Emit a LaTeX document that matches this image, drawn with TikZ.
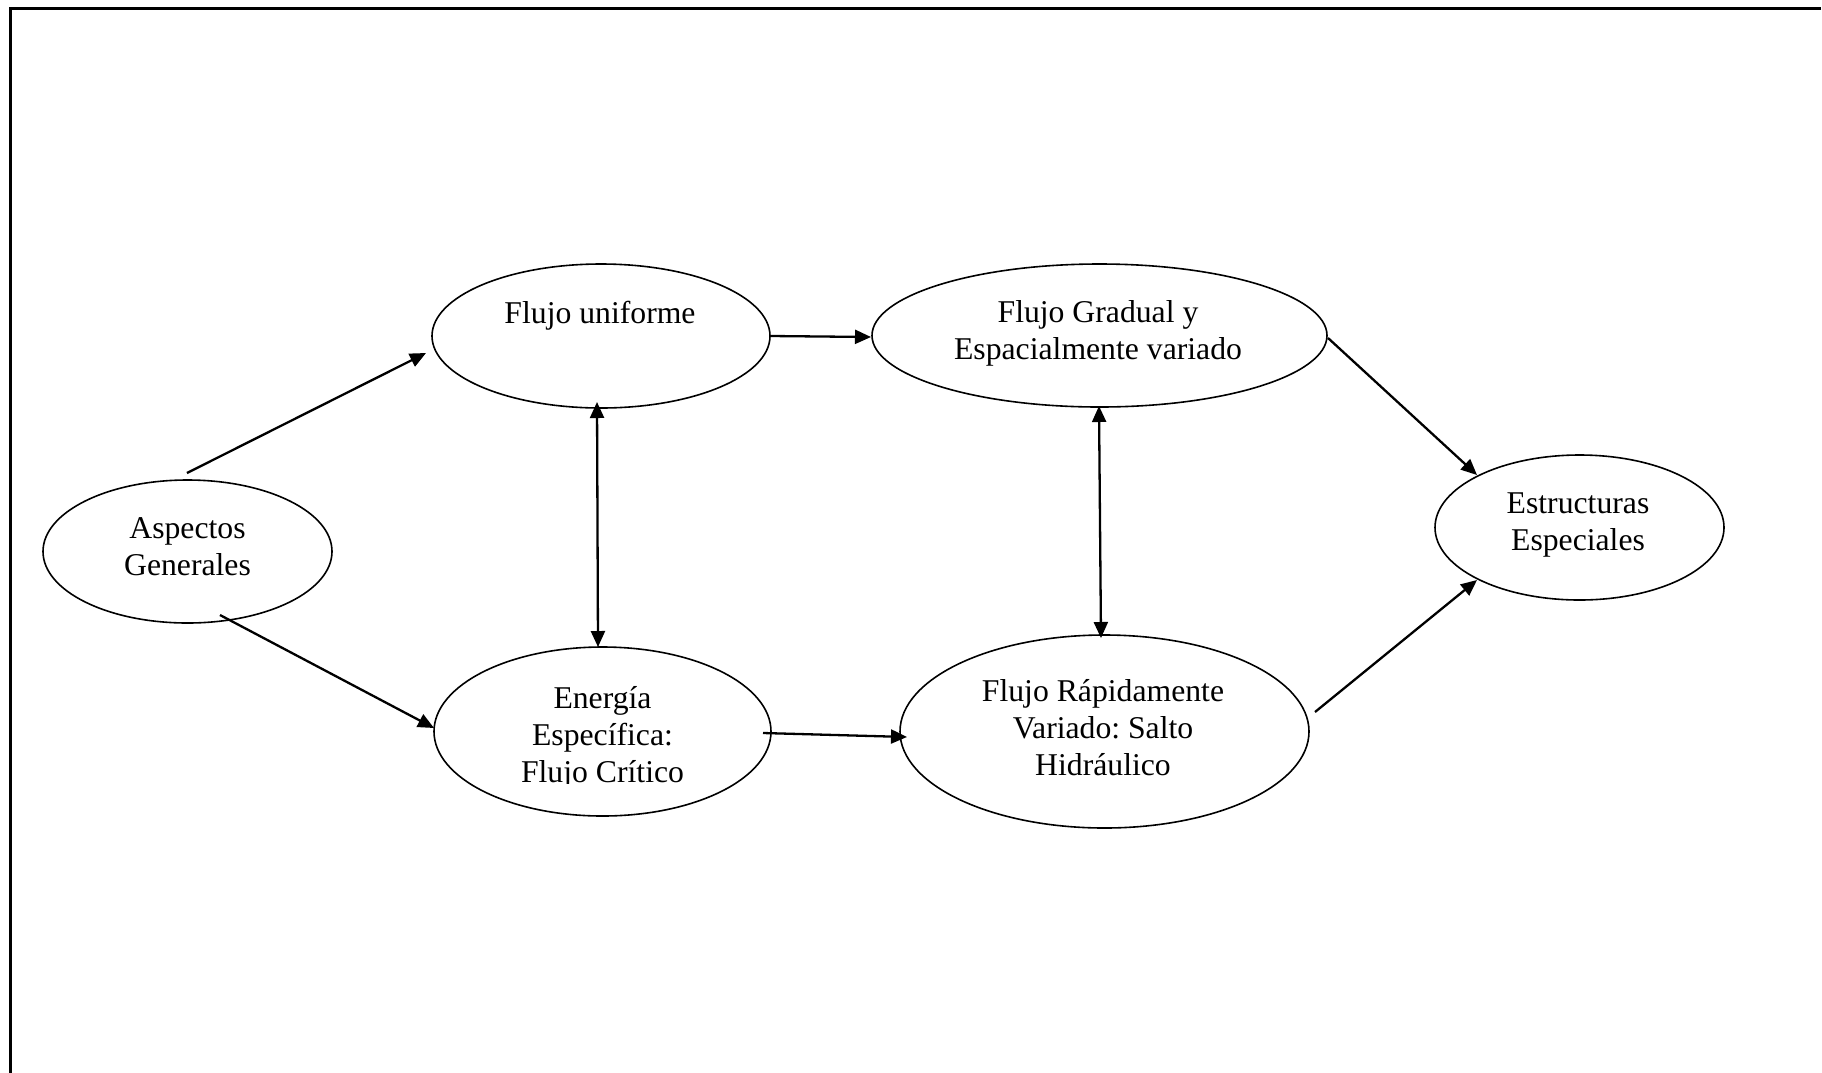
\documentclass[tikz,border=0pt]{standalone}
\usepackage{fontspec}
\setmainfont{Liberation Serif}
\frenchspacing
\usetikzlibrary{arrows.meta,calc,shapes.geometric}
\tikzset{
  oval/.style={draw=black, ellipse, line width=1.6pt, inner sep=0pt, fill=white},
  label/.style={anchor=base, inner sep=0pt, font=\fontsize{31.7}{37}\selectfont},
  conn/.style={line width=2.3pt, -{Triangle[length=16pt,width=14pt]}},
  bconn/.style={line width=2.3pt, {Triangle[length=16pt,width=14pt]}-{Triangle[length=16pt,width=14pt]}},
  framestyle/.style={line width=3pt}
}
\newcommand{\lines}[1]{\begin{tabular}[t]{@{}c@{}}#1\end{tabular}}
\begin{document}
\begin{tikzpicture}[x=1pt,y=-1pt]
\useasboundingbox (0,0) rectangle (1822,1072);
\fill[white] (0,0) rectangle (1822,1072);
% frame (top and left edges visible)
\coordinate (ftr) at (1821,8.7);
\coordinate (ftl) at (8.5,8.7);
\coordinate (fbl) at (10.3,1073);
\draw[framestyle] (ftr) -- (ftl -| fbl) -- (fbl);

% ellipses
\node[oval, minimum width=289pt, minimum height=143pt] (ag) at (187.5,551.5) {};
\node[oval, minimum width=338pt, minimum height=144pt] (fu) at (601,336) {};
\node[oval, minimum width=455pt, minimum height=143pt] (fg) at (1099.5,335.5) {};
\node[oval, minimum width=289pt, minimum height=145pt] (es) at (1579.5,527.5) {};
\node[oval, minimum width=337pt, minimum height=169pt] (en) at (602.5,731.5) {};
\node[oval, minimum width=409pt, minimum height=193pt] (fr) at (1104.5,731.5) {};

% texts
\node[label] (tag) at ($(ag)+(0,-13.5)$) {\lines{Aspectos\\Generales}};
\node[label] (tfu) at ($(fu)+(-1,-13)$) {Flujo uniforme};
\node[label] (tfg) at ($(fg)+(-1.5,-13.5)$) {\lines{Flujo Gradual y\\Espacialmente variado}};
\node[label] (tes) at ($(es)+(-1.5,-14.5)$) {\lines{Estructuras\\Especiales}};
\begin{scope}
  \clip ($(en)+(-170,-90)$) rectangle ($(en)+(170,52)$);
  \node[label] (ten) at ($(en)+(0,-23.5)$) {\lines{Energía\\Específica:\\Flujo Crítico}};
\end{scope}
\node[label] (tfr) at ($(fr)+(-1.5,-30.5)$) {\lines{Flujo Rápidamente\\Variado: Salto\\Hidráulico}};

% connectors
\draw[conn] ($(ag)+(-0.5,-78.5)$) -- ($(fu)+(-175,17)$);
\draw[conn] ($(ag)+(32.5,63.5)$) -- ($(en)+(-168.5,-3.5)$);
\draw[conn] (fu.east) -- ($(fg)+(-228.5,1.5)$);
\draw[bconn] ($(fu)+(-4,66)$) -- ($(en)+(-4.5,-84.5)$);
\draw[conn] ($(en)+(160.5,1.5)$) -- ($(fr)+(-197.5,5.5)$);
\draw[bconn] ($(fg)+(-0.5,70.5)$) -- ($(fr)+(-3.5,-93.5)$);
\draw[conn] ($(fg)+(228.5,2.5)$) -- ($(es)+(-102.5,-52.5)$);
\draw[conn] ($(fr)+(210.5,-19.5)$) -- ($(es)+(-102.5,52.5)$);
\end{tikzpicture}
\end{document}
